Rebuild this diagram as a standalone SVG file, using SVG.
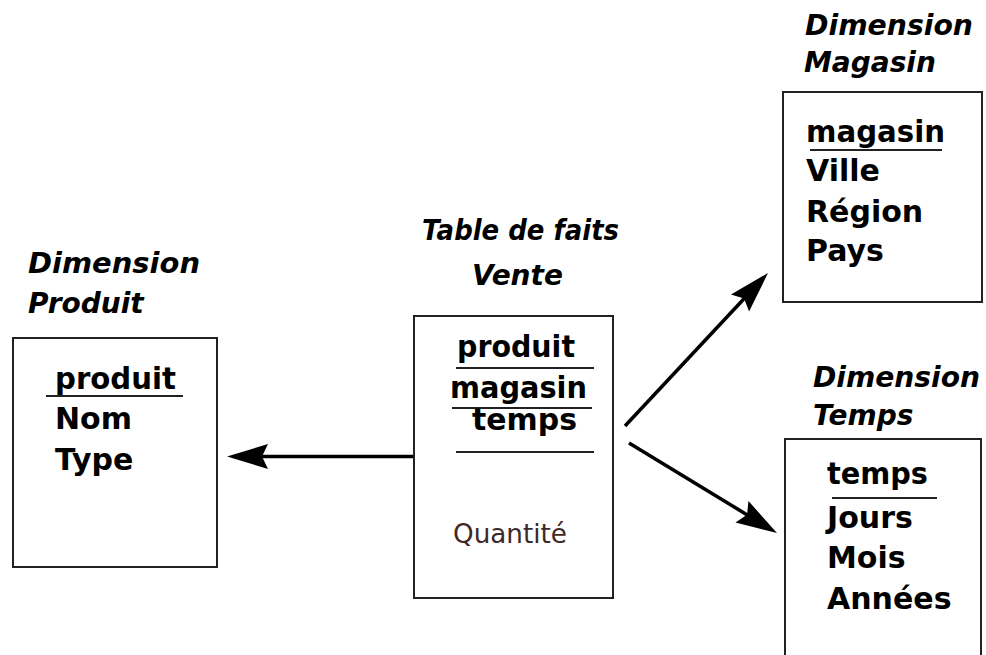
<svg xmlns="http://www.w3.org/2000/svg" width="986" height="655" viewBox="0 0 986 655">
  <style>
    .box { fill: #ffffff; stroke: #222222; stroke-width: 2; }
    .rule { stroke: #222222; stroke-width: 2; }
    .title { font-family: "DejaVu Sans", Verdana, sans-serif; font-weight: bold; font-style: italic; font-size: 28px; fill: #000000; }
    .field { font-family: "DejaVu Sans", Verdana, sans-serif; font-weight: bold; font-size: 30px; fill: #000000; }
    .measure { font-family: "DejaVu Sans", Verdana, sans-serif; font-size: 27px; fill: #402828; }
    .link { fill: none; stroke: #000000; stroke-width: 3.5; }
  </style>
  <defs>
    <marker id="head" markerUnits="userSpaceOnUse" markerWidth="42" markerHeight="26" viewBox="0 -13 42 26" refX="10" refY="0" orient="auto">
      <path d="M0,-12.5 L41,0 L0,12.5 L6,0 Z" fill="#000000"/>
    </marker>
  </defs>

  <rect width="986" height="655" fill="#ffffff"/>

  <!-- connectors from the fact table to the dimensions -->
  <g id="connectors">
    <line class="link" x1="414" y1="456.5" x2="258" y2="456.5" marker-end="url(#head)"/>
    <line class="link" x1="625" y1="426" x2="746.8" y2="295.7" marker-end="url(#head)"/>
    <line class="link" x1="629" y1="443" x2="750.5" y2="516.9" marker-end="url(#head)"/>
  </g>

  <!-- product dimension -->
  <g id="dim-produit">
    <text class="title" x="28" y="273" textLength="172" lengthAdjust="spacingAndGlyphs">Dimension</text>
    <text class="title" x="28" y="313">Produit</text>
    <rect class="box" x="13" y="338" width="204" height="229"/>
    <text class="field" x="55" y="389" textLength="121" lengthAdjust="spacingAndGlyphs">produit</text>
    <line class="rule" x1="46" y1="396" x2="183" y2="396"/>
    <text class="field" x="55" y="429">Nom</text>
    <text class="field" x="55" y="470">Type</text>
  </g>

  <!-- sales fact table -->
  <g id="fait-vente">
    <text class="title" x="422" y="240" textLength="197" lengthAdjust="spacingAndGlyphs">Table de faits</text>
    <text class="title" x="472" y="285">Vente</text>
    <rect class="box" x="414" y="316" width="199" height="282"/>
    <text class="field" x="457" y="357" textLength="118" lengthAdjust="spacingAndGlyphs">produit</text>
    <line class="rule" x1="456" y1="368" x2="594" y2="368"/>
    <text class="field" x="450" y="398" textLength="137" lengthAdjust="spacingAndGlyphs">magasin</text>
    <line class="rule" x1="452" y1="408" x2="592" y2="408"/>
    <text class="field" x="472" y="430" textLength="105" lengthAdjust="spacingAndGlyphs">temps</text>
    <line class="rule" x1="456" y1="452" x2="594" y2="452"/>
    <text class="measure" x="453" y="543" textLength="114" lengthAdjust="spacingAndGlyphs">Quantité</text>
  </g>

  <!-- store dimension -->
  <g id="dim-magasin">
    <text class="title" x="805" y="35" textLength="168" lengthAdjust="spacingAndGlyphs">Dimension</text>
    <text class="title" x="804" y="72">Magasin</text>
    <rect class="box" x="783" y="92" width="199" height="210"/>
    <text class="field" x="806" y="142" textLength="139" lengthAdjust="spacingAndGlyphs">magasin</text>
    <line class="rule" x1="810" y1="150" x2="942" y2="150"/>
    <text class="field" x="806" y="181">Ville</text>
    <text class="field" x="806" y="222">Région</text>
    <text class="field" x="806" y="261">Pays</text>
  </g>

  <!-- time dimension -->
  <g id="dim-temps">
    <text class="title" x="813" y="387" textLength="167" lengthAdjust="spacingAndGlyphs">Dimension</text>
    <text class="title" x="813" y="425">Temps</text>
    <rect class="box" x="785" y="439" width="196" height="240"/>
    <text class="field" x="827" y="484" textLength="101" lengthAdjust="spacingAndGlyphs">temps</text>
    <line class="rule" x1="832" y1="498" x2="937" y2="498"/>
    <text class="field" x="827" y="528">Jours</text>
    <text class="field" x="827" y="568">Mois</text>
    <text class="field" x="827" y="609">Années</text>
  </g>
</svg>
